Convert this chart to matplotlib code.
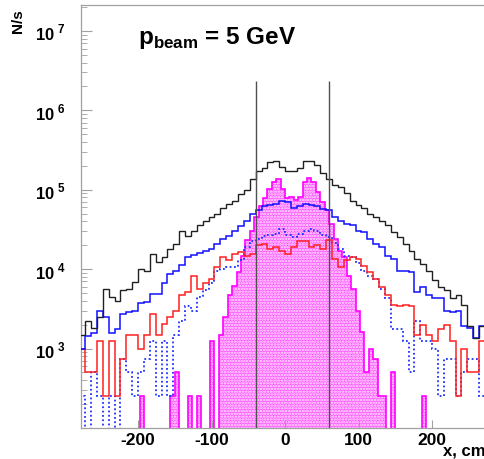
# Beam profile at p = 5 GeV: rates per 8 cm bin (lines) and the core (magenta, 6 cm bins)
import numpy as np
import matplotlib
matplotlib.use('Agg')
import matplotlib.pyplot as plt

plt.rcParams['font.family'] = 'Liberation Sans'
plt.rcParams['font.weight'] = 'bold'
plt.rcParams['mathtext.fontset'] = 'custom'
plt.rcParams['mathtext.rm'] = 'Liberation Sans'
plt.rcParams['mathtext.bf'] = 'Liberation Sans:bold'
plt.rcParams['hatch.linewidth'] = 1.2

# line histograms: 70 bins of 8 cm starting at -280 cm
LINE_X0, LINE_DX = -280, 8
black = [1500, 2250, 1800, 2500, 5600, 4500, 4000, 5400, 5600, 6900,
         10000, 9500, 15500, 12300, 14400, 18200, 21000, 30000, 26000, 30000,
         36000, 40000, 46000, 50000, 59000, 66000, 72000, 89000, 98000, 138000,
         170000, 186000, 225000, 230000, 195000, 174000, 170000, 186000, 230000, 230000,
         205000, 162000, 138000, 115000, 107000, 92000, 72000, 65000, 59000, 50000,
         45000, 40000, 36000, 29500, 25700, 21000, 17000, 13500, 11700, 9600,
         7200, 6000, 5400, 4300, 4700, 3500, 1950, 1350, 1950, 2300]
blue = [1000, 1450, 1550, 3000, 2500, 1550, 1780, 2700, 2850, 3000,
        3700, 3900, 4900, 4900, 6600, 8800, 9600, 11400, 14400, 15000,
        16000, 17000, 18000, 20500, 24000, 26000, 30000, 35000, 41000, 49000,
        56000, 62000, 65000, 66000, 72000, 70000, 59000, 62000, 66000, 65000,
        62000, 57000, 55000, 46000, 41000, 37000, 36000, 30000, 29500, 24000,
        21000, 19000, 14800, 13500, 9600, 9600, 9200, 5200, 6000, 4700,
        4300, 4300, 3000, 2900, 3000, 1950, 1800, 1350, 1950, 1950]
red = [1000, 500, 500, 1250, 250, 1250, 250, 750, 1500, 1500,
       1000, 1500, 2750, 1500, 2050, 2500, 3000, 4700, 5200, 8100,
       5600, 6600, 7600, 10700, 14400, 12900, 15500, 16600, 14800, 15500,
       20000, 21000, 18200, 19000, 17000, 15500, 19000, 22400, 22400, 19000,
       20000, 18200, 23000, 13500, 10700, 12900, 14400, 13500, 11000, 9300,
       7600, 6000, 4700, 3500, 3400, 3500, 3400, 1500, 2000, 1500,
       1250, 1750, 2000, 1250, 250, 1000, 500, 500, 1250, 1250]
blue_dotted = [250, 0, 500, 250, 0, 250, 0, 750, 500, 250,
               500, 750, 1250, 250, 1250, 250, 1500, 2200, 3400, 3000,
               4500, 5400, 6600, 9600, 10000, 10600, 10600, 12900, 19000, 22400,
               24000, 26000, 27000, 28000, 32000, 27000, 25700, 28000, 30000, 32000,
               30000, 27000, 25700, 21500, 18200, 14800, 14400, 12000, 9600, 8100,
               7600, 5600, 4300, 1750, 1750, 1250, 500, 2250, 1250, 1250,
               1000, 250, 750, 750, 250, 500, 750, 750, 250, 500]

# filled histogram: 67 bins of 6 cm starting at -204 cm
CORE_X0, CORE_DX = -204, 6
core = [0, 250, 0, 0,
        0, 0, 0, 0, 250, 500, 0, 0, 250, 0,
        250, 0, 0, 1250, 0, 1500, 2500, 4700, 6200, 9200,
        14800, 23000, 30000, 46000, 63000, 78000, 103000, 126000, 138000, 103000,
        78000, 82000, 74000, 82000, 126000, 142000, 126000, 94000, 70000, 55000,
        37000, 24000, 17000, 14400, 8300, 5600, 2950, 1600, 500, 1000,
        750, 250, 250, 0, 500, 0, 0, 0, 0, 0,
        0, 250, 0]

cut_x = [-40, 60]
cut_top = 2.35e6

y_ticks = [1e3, 1e4, 1e5, 1e6, 1e7]
y_labels = [r'$\mathbf{10}^{\ \mathbf{%d}}$' % k for k in range(3, 8)]
x_ticks = [-200, -100, 0, 100, 200]

line_edges = LINE_X0 + LINE_DX * np.arange(len(black) + 1)
core_edges = CORE_X0 + CORE_DX * np.arange(len(core) + 1)

W, H = 485, 460
fig = plt.figure(figsize=(W / 100, H / 100), dpi=100)
x_lo, x_hi = -277.6, 300
ax = fig.add_axes([81 / W, 31 / H, (x_hi - x_lo) * 0.735 / W, 423 / H])
ax.set_yscale('log')

ax.stairs(core, core_edges, fill=True, baseline=10, facecolor='#ff55ff',
          edgecolor='#fff0ff', hatch='......', linewidth=0, zorder=1)
ax.stairs(core, core_edges, baseline=10, color='#ff00ff', linewidth=1.2, zorder=2)

ax.stairs(blue_dotted, line_edges, baseline=None, color='#2030ff', linewidth=1.3,
          linestyle=(0, (1, 1.4)), zorder=3)
ax.stairs(red, line_edges, baseline=None, color='#ff2020', linewidth=1.1, zorder=4)
ax.stairs(blue, line_edges, baseline=None, color='#1010ff', linewidth=1.1, zorder=5)
ax.stairs(black, line_edges, baseline=None, color='#202020', linewidth=1.0, zorder=6)

ax.vlines(cut_x, 100, cut_top, color='#505050', linewidth=1.0, zorder=7)

ax.set_xlim(x_lo, x_hi)
ax.set_ylim(100, 2.12e7)

for s in ax.spines.values():
    s.set_color('#a0a0a0')
    s.set_linewidth(0.9)
ax.spines['right'].set_visible(False)

ax.set_yticks(y_ticks)
ax.set_yticklabels(y_labels)
ax.set_xticks(x_ticks)
ax.set_xticklabels([str(v) for v in x_ticks])
ax.tick_params(axis='both', which='both', direction='in', color='#a0a0a0')
ax.tick_params(axis='y', which='major', length=8, pad=11, labelsize=12)
ax.tick_params(axis='y', which='minor', length=4)
ax.tick_params(axis='x', which='major', length=6, pad=3, labelsize=12.5)
ax.tick_params(axis='x', which='minor', length=0)

fig.text(138 / W, 1 - 44 / H, r'$\mathbf{p}_{\mathbf{beam}}$ = 5 GeV',
         fontsize=17.5, weight='bold', ha='left', va='baseline')
fig.text(18 / W, 1 - 21 / H, 'N/s', rotation=90, fontsize=11, weight='bold',
         ha='center', va='center')
fig.text(443 / W, 1 - 456 / H, 'x, cm', fontsize=12, weight='bold',
         ha='left', va='baseline')

fig.savefig('out.png', dpi=100)
